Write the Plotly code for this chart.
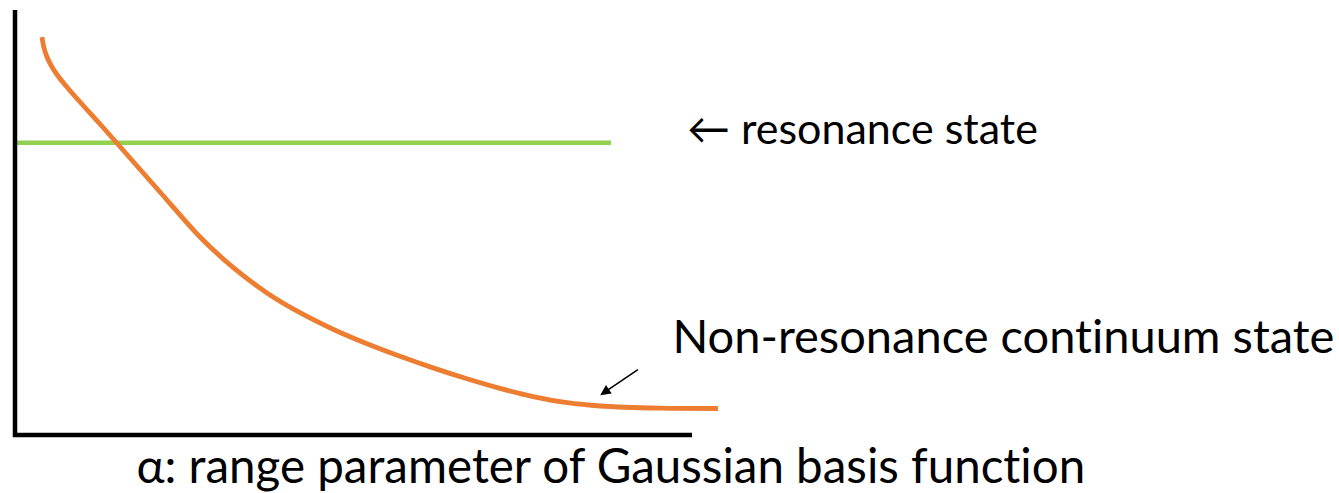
import plotly.graph_objects as go

# Energy eigenvalue of a pseudo-state as a function of the Gaussian range parameter
alpha = [0.400, 0.430, 0.474, 0.548, 0.637, 0.756, 0.963, 1.259, 1.704, 2.148,
         2.741, 3.230, 3.733, 4.222, 4.711, 5.215, 5.704, 6.193, 6.696, 7.185,
         7.674, 8.178, 8.667, 9.556, 10.415]
continuum_energy = [9.590, 9.325, 9.108, 8.867, 8.651, 8.410, 8.024, 7.494, 6.675, 5.855,
                    4.771, 4.039, 3.424, 2.947, 2.549, 2.198, 1.896, 1.617, 1.354, 1.123,
                    0.925, 0.778, 0.699, 0.648, 0.639]

# Resonance state energy: stable against alpha
resonance_alpha = [0.02, 8.83]
resonance_energy = [7.04, 7.04]

# Axis extents
x_axis_end = 10.03
y_axis_top = 10.24

fig = go.Figure()

fig.add_trace(go.Scatter(
    x=resonance_alpha, y=resonance_energy, mode="lines",
    line=dict(color="#92D050", width=4.5), hoverinfo="skip", showlegend=False,
))
fig.add_trace(go.Scatter(
    x=alpha, y=continuum_energy, mode="lines",
    line=dict(color="#ED7D31", width=4.8, shape="spline", smoothing=0.9),
    hoverinfo="skip", showlegend=False,
))

# Hand-drawn style axes
fig.add_shape(type="line", x0=0, x1=0, y0=-0.05, y1=y_axis_top,
              line=dict(color="black", width=4.5))
fig.add_shape(type="line", x0=-0.03, x1=x_axis_end, y0=0, y1=0,
              line=dict(color="black", width=4.5))

label_font = dict(family="Lato, 'DejaVu Sans', sans-serif", color="black")

fig.add_annotation(x=9.93, y=7.42, text="← resonance state", showarrow=False,
                   xanchor="left", yanchor="middle",
                   font=dict(size=43, **label_font))
fig.add_annotation(x=9.70, y=2.41, text="Non-resonance continuum state", showarrow=False,
                   xanchor="left", yanchor="middle",
                   font=dict(size=47, **label_font))
fig.add_annotation(x=8.67, y=0.96, ax=9.25, ay=1.60, xref="x", yref="y",
                   axref="x", ayref="y", text="", showarrow=True,
                   arrowhead=2, arrowsize=1.3, arrowwidth=1.6, arrowcolor="black")
fig.add_annotation(x=8.83, y=-0.71, text="α: range parameter of Gaussian basis function",
                   showarrow=False, xanchor="center", yanchor="middle",
                   font=dict(size=47.5, **label_font))

fig.update_xaxes(range=[-15 / 67.5, (1339 - 15) / 67.5], visible=False)
fig.update_yaxes(range=[(435 - 493) / 41.5, 435 / 41.5], visible=False)
fig.update_layout(
    width=1339, height=493, margin=dict(l=0, r=0, t=0, b=0),
    plot_bgcolor="white", paper_bgcolor="white",
)

# Plain letter shapes in the labels (no "ti" ligature)
no_ligatures = """
document.querySelectorAll('.annotation-text').forEach(function (t) {
  t.style.fontVariantLigatures = 'none';
  t.style.fontFeatureSettings = '"liga" 0, "clig" 0';
});
"""

fig.write_html("out.html", post_script=no_ligatures)
